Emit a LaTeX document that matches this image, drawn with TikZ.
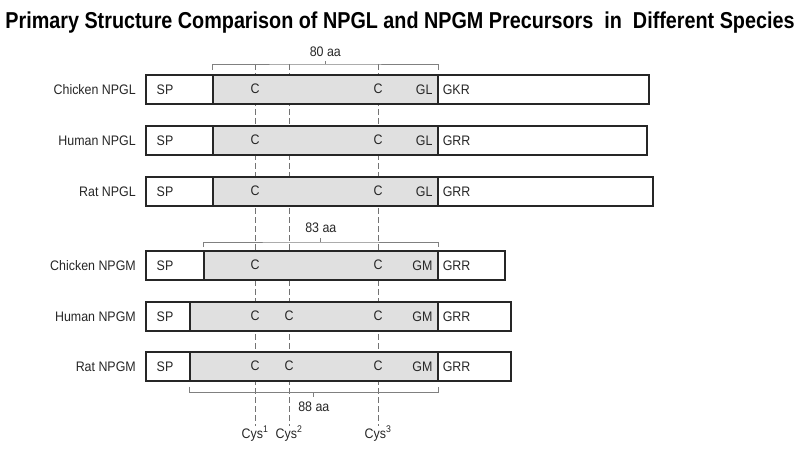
\documentclass[tikz,border=0pt]{standalone}
\usepackage{fontspec}
\setmainfont{Liberation Sans}[FakeStretch=0.9]
\newfontfamily\titlefont{Liberation Sans}[FakeStretch=0.86]
\usetikzlibrary{positioning}

\begin{document}
\begin{tikzpicture}[x=1pt,y=-1pt,every node/.style={font=\fontsize{13.8}{15}\selectfont,text=black!85,inner sep=0pt},
   seqbox/.style={draw=black!85,line width=1.6pt,fill=white,anchor=north west,minimum height=29pt},
   corebox/.style={draw=black!85,line width=1.6pt,fill=black!12,anchor=north west,minimum height=29pt},
   brack/.style={draw=black!50,line width=0.9pt},
   cysline/.style={draw=black!55,line width=0.9pt,dash pattern=on 6pt off 3pt}]
  \useasboundingbox (0,0) rectangle (800,449);
  \node[anchor=base,text=black,font=\titlefont\fontsize{23}{26}\selectfont\bfseries] (title) at (400,29)
    {Primary Structure Comparison of NPGL and NPGM Precursors\ \ in\ \ Different Species};
  % cysteine guide lines
  \coordinate (t1) at (255,64);
  \coordinate (t2) at (289,64);
  \coordinate (t3) at (378,64);
  \node[anchor=base] (cys1) at (255,438){Cys\textsuperscript{1}};
  \node[anchor=base] (cys2) at (289,438){Cys\textsuperscript{2}};
  \node[anchor=base] (cys3) at (378,438){Cys\textsuperscript{3}};
  \foreach \i in {1,2,3}\draw[cysline](t\i)--(cys\i);
  % precursor rows
  \foreach \n/\y/\g/\r/\name/\tail/\mot in {1/74/212/648/Chicken NPGL/GKR/GL,2/125/212/646/Human NPGL/GRR/GL,
      3/176/212/652/Rat NPGL/GRR/GL,4/250/203/504/Chicken NPGM/GRR/GM,5/301/189/510/Human NPGM/GRR/GM,6/351/189/510/Rat NPGM/GRR/GM}{
    \node[seqbox,minimum width={\r-145}] (row\n) at (145,\y){};
    \node[corebox,minimum width={437-\g}] (core\n) at (\g,\y){};
    \node[anchor=east] (name\n) at ([xshift=-9pt]row\n.west){\name};
    \node (sp\n) at ([xshift=20pt]row\n.west){SP};
    \node (ca\n) at (255,{\y+14.5}){C};
    \node (cc\n) at (378,{\y+14.5}){C};
    \node[anchor=east] (mot\n) at ([xshift=-6pt]core\n.east){\mot};
    \node[anchor=west] (tail\n) at ([xshift=4pt]core\n.east){\tail};
  }
  \node (cb5) at (289,315.5){C};
  \node (cb6) at (289,365.5){C};
  % length brackets
  \draw[brack]([yshift=4pt]core1.north west)|-([yshift=10pt]core1.north) coordinate (m80)-|([yshift=4pt]core1.north east);
  \draw[brack](m80)--++(0,-3);
  \node[above=7pt of m80] (lab80){80 aa};
  \draw[brack]([yshift=3pt]core4.north west)|-([yshift=8pt]core4.north) coordinate (m83)-|([yshift=3pt]core4.north east);
  \draw[brack](m83)--++(0,-4);
  \node[above=9pt of m83] (lab83){83 aa};
  \draw[brack]([yshift=-5pt]core6.south west)|-([yshift=-11pt]core6.south) coordinate (m88)-|([yshift=-5pt]core6.south east);
  \draw[brack](m88)--++(0,4);
  \node[below=9pt of m88] (lab88){88 aa};
\end{tikzpicture}
\end{document}
